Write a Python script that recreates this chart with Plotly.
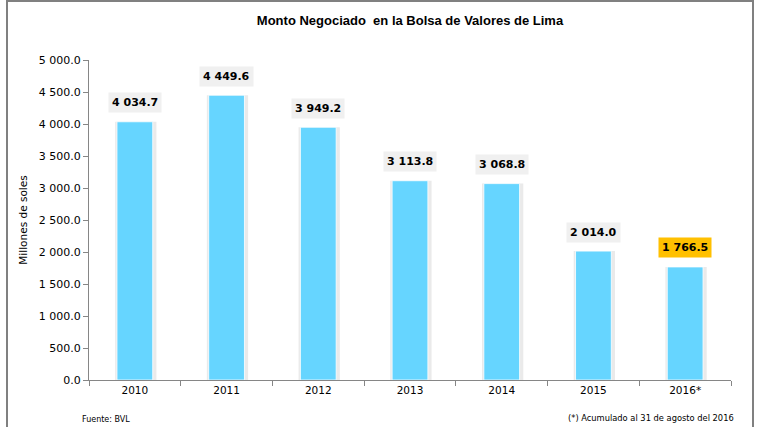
import plotly.graph_objects as go

years = ["2010", "2011", "2012", "2013", "2014", "2015", "2016*"]
values = [4034.7, 4449.6, 3949.2, 3113.8, 3068.8, 2014.0, 1766.5]
label_bg = ["#F0F0F0"] * 6 + ["#FFC000"]

W, H = 762, 427
L, R, T, B = 89, 31, 60, 47
pw, ph = W - L - R, H - T - B

def px(x):
    return (x - L) / pw

def py(y):
    return (H - B - y) / ph

fig = go.Figure()
# soft glow/shadow around the bars
fig.add_trace(go.Bar(x=years, y=values, width=0.45, offset=-0.215,
                     marker=dict(color="#EAEAEA", line=dict(width=0)),
                     hoverinfo="skip", showlegend=False))
fig.add_trace(go.Bar(x=years, y=values, width=0.39, offset=-0.195,
                     marker=dict(color="#66D5FF", line=dict(color="#FFFFFF", width=0.8)),
                     showlegend=False))

for i, (v, bg) in enumerate(zip(values, label_bg)):
    fig.add_annotation(x=i, y=v, yref="y", xref="x", yshift=19,
                       text=f"<b>{v:,.1f}</b>".replace(",", " "),
                       showarrow=False, bgcolor=bg, borderpad=3,
                       font=dict(family="DejaVu Sans", size=11, color="#000000"))

fig.add_annotation(xref="paper", yref="paper", x=px(80), y=py(419), xanchor="left",
                   yanchor="middle", text="Fuente: BVL", showarrow=False,
                   font=dict(family="DejaVu Sans", size=8, color="#000000"))
fig.add_annotation(xref="paper", yref="paper", x=px(736), y=py(418), xanchor="right",
                   yanchor="middle", text="(*) Acumulado al 31 de agosto del 2016", showarrow=False,
                   font=dict(family="DejaVu Sans", size=8.3, color="#000000"))

# frame
fig.add_shape(type="rect", xref="paper", yref="paper",
              x0=px(7), x1=px(753), y0=py(440), y1=py(1),
              line=dict(color="#808080", width=2), fillcolor="rgba(0,0,0,0)", layer="below")

fig.update_layout(
    width=W, height=H,
    margin=dict(l=L, r=R, t=T, b=B),
    paper_bgcolor="white", plot_bgcolor="white",
    separators=". ",
    barmode="overlay",
    title=dict(text="<b>Monto Negociado  en la Bolsa de Valores de Lima</b>",
               x=0.5, xref="paper", xanchor="center", y=1 - 20 / H, yref="container", yanchor="middle",
               font=dict(family="Liberation Sans", size=13, color="#000000")),
    font=dict(family="DejaVu Sans", size=10.5, color="#000000"),
    xaxis=dict(type="category", range=[-0.5, 6.5], showline=True, linecolor="#868686",
               linewidth=1, ticks="outside",
               tickcolor="#868686", ticklen=5, tickson="boundaries", tickangle=0,
               showgrid=False, tickfont=dict(size=10.5)),
    yaxis=dict(range=[0, 5000], dtick=500, tickformat=",.1f", showline=True,
               linecolor="#868686", linewidth=1, ticks="outside", tickcolor="#868686",
               ticklen=5, showgrid=False, zeroline=False,
               title=dict(text="Millones de soles", font=dict(size=10.5), standoff=9),
               tickfont=dict(size=11)),
)

fig.write_html("out.html")
